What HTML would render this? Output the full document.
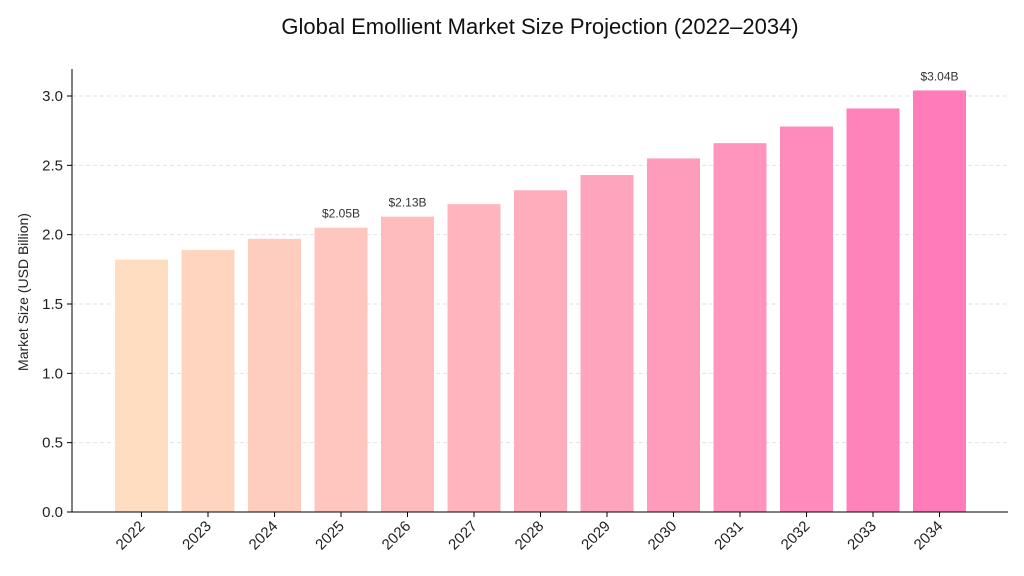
<!DOCTYPE html>
<html><head><meta charset="utf-8"><style>
body{margin:0;background:#fff;}
svg{display:block;font-family:"Liberation Sans",sans-serif;}
</style></head><body>
<svg id="chart" width="1024" height="576">
<text x="540" y="34" text-anchor="middle" font-size="22" fill="#111">Global Emollient Market Size Projection (2022–2034)</text>
<text transform="translate(28,292) rotate(-90)" text-anchor="middle" font-size="14" fill="#222">Market Size (USD Billion)</text>
<g id="grid"></g><g id="bars"></g><g id="axes"></g>
</svg>
<script>
const years=["2022","2023","2024","2025","2026","2027","2028","2029","2030","2031","2032","2033","2034"];
const values=[1.82,1.89,1.97,2.05,2.13,2.22,2.32,2.43,2.55,2.66,2.78,2.91,3.04];
const yTicks=[0,0.5,1,1.5,2,2.5,3];
const labeled=["2025","2026","2034"];
const NS="http://www.w3.org/2000/svg";
const x0=72,x1=1008,y0=512,ppu=138.67;
const y=v=>y0-v*ppu;
const xc=i=>141.5+i*66.5;
const bw=53;
function mk(t,a,p){const e=document.createElementNS(NS,t);for(const k in a)e.setAttribute(k,a[k]);p.appendChild(e);return e;}
const grid=document.getElementById('grid'),bars=document.getElementById('bars'),axes=document.getElementById('axes');
yTicks.forEach(t=>{
 if(t>0){const g=mk('line',{x1:x0,x2:x1,y1:y(t),y2:y(t),stroke:'#e2e2e2','stroke-dasharray':'4,3'},grid);
 
 }
 const tk=mk('line',{x1:x0-5,x2:x0,y1:y(t),y2:y(t),stroke:'#000'},axes);
 
 
 const l=mk('text',{x:x0-9,y:y(t)+5,'text-anchor':'end','font-size':15,fill:'#222'},axes);l.textContent=t.toFixed(1);
 
 
});
const c0=[255,221,192],c1=[255,123,186];
values.forEach((v,i)=>{
 const f=i/(values.length-1);const c=c0.map((a,k)=>Math.round(a+(c1[k]-a)*f));
 const r=mk('rect',{x:xc(i)-bw/2,y:y(v),width:bw,height:y0-y(v),fill:`rgb(${c})`},bars);
 
 
 const tk=mk('line',{x1:xc(i),x2:xc(i),y1:y0,y2:y0+5,stroke:'#000'},axes);
 
 
 const l=mk('text',{transform:`translate(${xc(i)+4},${y0+15}) rotate(-45)`,'text-anchor':'end','font-size':15,fill:'#222'},axes);
 l.textContent=years[i];
 
 
 if(labeled.includes(years[i])){const a=mk('text',{x:xc(i),y:y(v)-10,'text-anchor':'middle','font-size':12,fill:'#333'},axes);
 a.textContent='$'+v.toFixed(2)+'B';
 
 }
});
const ax=mk('line',{x1:x0,x2:x0,y1:69,y2:y0,stroke:'#000'},axes);


const bx=mk('line',{x1:x0,x2:x1,y1:y0,y2:y0,stroke:'#000'},axes);


</script>
</body></html>
